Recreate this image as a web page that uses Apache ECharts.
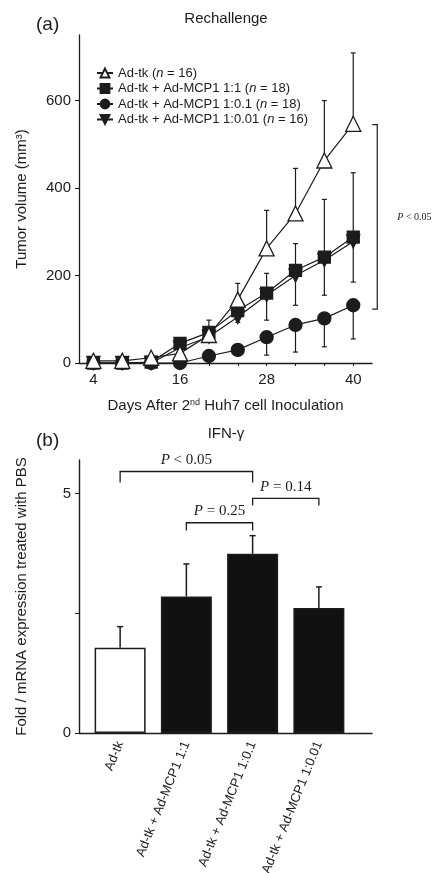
<!DOCTYPE html>
<html>
<head>
<meta charset="utf-8">
<script src="https://cdn.jsdelivr.net/npm/echarts@6/dist/echarts.min.js"></script>
<style>
  html, body { margin: 0; padding: 0; background: #fff; }
  #main { width: 433px; height: 873px; }
</style>
</head>
<body>
<div id="main"></div>
<script>
// (a) tumor volume after rechallenge
var days = [4, 8, 12, 16, 20, 24, 28, 32, 36, 40];
var dayLabels = [4, 16, 28, 40];
var volTicks = [0, 200, 400, 600];
var adTk = [5, 5, 12, 22, 64, 145, 262, 342, 463, 547];
var mcp11 = [0, 0, 2, 45, 70, 120, 160, 212, 242, 288];
var mcp101 = [0, 0, 0, 0, 16, 30, 59, 87, 102, 132];
var mcp1001 = [0, 0, 0, 35, 60, 105, 155, 200, 235, 278];
var adTkHigh = [null, null, null, null, 98, 182, 349, 445, 600, 709];
var mcp11High = [null, null, null, null, null, null, 205, 273, 374, 435];
var mcp101Low = [null, null, null, null, null, null, 18, 25, 37, 55];
var mcp1001Low = [null, null, null, null, null, 93, 98, 132, 155, 185];
var seriesNames = ['Ad-tk', 'Ad-tk + Ad-MCP1 1:1', 'Ad-tk + Ad-MCP1 1:0.1', 'Ad-tk + Ad-MCP1 1:0.01'];
var seriesN = [16, 18, 18, 16];
// bracket: x of line, x of tick end, y top, y bottom
var volBracket = [[43.33, 42.64, 545, 123]];

// (b) IFN-gamma expression
var groups = ['Ad-tk', 'Ad-tk + Ad-MCP1 1:1', 'Ad-tk + Ad-MCP1 1:0.1', 'Ad-tk + Ad-MCP1 1:0.01'];
var ifnMean = [1.78, 2.85, 3.74, 2.61];
var ifnHigh = [2.22, 3.53, 4.12, 3.05];
var foldTicks = [0, 2.5, 5];
var foldLabels = [0, 5];
// bracket: from group, to group, line y, tick end y
var ifnBrackets = [[0, 2, 5.46, 5.23], [1, 2, 4.39, 4.23], [2, 3, 4.90, 4.75]];
var ifnBracketText = ['P < 0.05', 'P = 0.25', 'P = 0.14'];

var ink = '#1c1c1c';
var sans = '"Liberation Sans", Arial, sans-serif';
var serif = '"Liberation Serif", "Times New Roman", serif';

var chart = echarts.init(document.getElementById('main'));

function errData(base, ends) {
  var out = [];
  for (var i = 0; i < days.length; i++) {
    if (ends[i] != null) out.push([days[i], base[i], ends[i]]);
  }
  return out;
}

function renderErr(params, api) {
  var p1 = api.coord([api.value(0), api.value(1)]);
  var p2 = api.coord([api.value(0), api.value(2)]);
  var w = 2.5;
  return {
    type: 'group',
    children: [
      { type: 'line', shape: { x1: p1[0], y1: p1[1], x2: p2[0], y2: p2[1] }, style: { stroke: ink, lineWidth: 1.2 } },
      { type: 'line', shape: { x1: p2[0] - w, y1: p2[1], x2: p2[0] + w, y2: p2[1] }, style: { stroke: ink, lineWidth: 1.2 } }
    ]
  };
}

function renderBarErr(params, api) {
  var p1 = api.coord([api.value(0), api.value(1)]);
  var p2 = api.coord([api.value(0), api.value(2)]);
  var w = 3;
  return {
    type: 'group',
    children: [
      { type: 'line', shape: { x1: p1[0], y1: p1[1], x2: p2[0], y2: p2[1] }, style: { stroke: ink, lineWidth: 1.5 } },
      { type: 'line', shape: { x1: p2[0] - w, y1: p2[1], x2: p2[0] + w, y2: p2[1] }, style: { stroke: ink, lineWidth: 1.5 } }
    ]
  };
}

function renderVolBracket(params, api) {
  var a = api.coord([api.value(1), api.value(2)]);
  var b = api.coord([api.value(0), api.value(2)]);
  var c = api.coord([api.value(0), api.value(3)]);
  var d = api.coord([api.value(1), api.value(3)]);
  return {
    type: 'group',
    children: [
      { type: 'polyline', shape: { points: [a, b, c, d] }, style: { stroke: ink, fill: null, lineWidth: 1.2 } },
      { type: 'text', x: b[0] + 20, y: (b[1] + c[1]) / 2,
        style: { text: '{i|P} < 0.05', fill: ink, font: '10px ' + serif, align: 'left', verticalAlign: 'middle',
                 rich: { i: { fontStyle: 'italic', fontFamily: serif, fontSize: 10 } } } }
    ]
  };
}

function renderIfnBracket(params, api) {
  var a = api.coord([api.value(0), api.value(3)]);
  var b = api.coord([api.value(0), api.value(2)]);
  var c = api.coord([api.value(1), api.value(2)]);
  var d = api.coord([api.value(1), api.value(3)]);
  var txt = ifnBracketText[params.dataIndex].replace('P', '{i|P}');
  return {
    type: 'group',
    children: [
      { type: 'polyline', shape: { points: [a, b, c, d] }, style: { stroke: ink, fill: null, lineWidth: 1.3 } },
      { type: 'text', x: (b[0] + c[0]) / 2, y: b[1] - 4,
        style: { text: txt, fill: ink, font: '15px ' + serif, align: 'center', verticalAlign: 'bottom',
                 rich: { i: { fontStyle: 'italic', fontFamily: serif, fontSize: 15 } } } }
    ]
  };
}

var lineBase = {
  type: 'line', xAxisIndex: 0, yAxisIndex: 0, z: 3,
  lineStyle: { color: ink, width: 1.2 },
  emphasis: { disabled: true }
};

function lineSeries(name, values, symbol, size, rotate, fill) {
  return Object.assign({}, lineBase, {
    name: name,
    data: days.map(function (d, i) { return [d, values[i]]; }),
    symbol: symbol, symbolSize: size, symbolRotate: rotate,
    itemStyle: { color: fill, borderColor: ink, borderWidth: 1.3 }
  });
}

var option = {
  animation: false,
  backgroundColor: '#fff',
  textStyle: { fontFamily: sans, color: ink },
  graphic: [
    { type: 'text', x: 36, y: 25, style: { text: '(a)', font: '19px ' + sans, fill: ink, verticalAlign: 'middle' } },
    { type: 'text', x: 226, y: 19, style: { text: 'Rechallenge', font: '15px ' + sans, fill: ink, align: 'center', verticalAlign: 'middle' } },
    { type: 'text', x: 36, y: 441, style: { text: '(b)', font: '19px ' + sans, fill: ink, verticalAlign: 'middle' } },
    { type: 'text', x: 226, y: 434, style: { text: 'IFN-\u03b3', font: '15px ' + sans, fill: ink, align: 'center', verticalAlign: 'middle' } }
  ],
  legend: {
    orient: 'vertical', left: 91, top: 61,
    itemWidth: 16, itemHeight: 11, itemGap: 1.5,
    data: seriesNames,
    formatter: function (name) {
      return '{t|' + name + ' (}{i|n}{t| = ' + seriesN[seriesNames.indexOf(name)] + ')}';
    },
    textStyle: {
      color: ink, fontFamily: sans, fontSize: 13, lineHeight: 14,
      rich: { t: { fontSize: 13, fontFamily: sans, color: ink }, i: { fontSize: 13, fontFamily: sans, fontStyle: 'italic', color: ink } }
    }
  },
  grid: [
    { left: 79, right: 61, top: 35, bottom: 510, outerBoundsMode: 'none' },
    { left: 79, right: 61, top: 460, bottom: 140, outerBoundsMode: 'none' },
    { left: 87, right: 81, top: 460, bottom: 140, outerBoundsMode: 'none' }
  ],
  xAxis: [
    {
      gridIndex: 0, type: 'value', min: 2, max: 42.6,
      axisLine: { onZero: false, lineStyle: { color: ink, width: 1.3 } },
      axisTick: { customValues: days, length: 3, lineStyle: { color: ink } },
      axisLabel: { customValues: dayLabels, color: ink, fontSize: 15, margin: 9 },
      splitLine: { show: false },
      name: '{a|Days After 2}{s|nd}{a| Huh7 cell Inoculation}',
      nameLocation: 'middle', nameGap: 35,
      nameTextStyle: { rich: { a: { fontSize: 15, color: ink, fontFamily: sans }, s: { fontSize: 9, color: ink, fontFamily: sans, verticalAlign: 'top', lineHeight: 12 } } }
    },
    {
      gridIndex: 1, type: 'value', min: 0, max: 1,
      axisLine: { onZero: false, lineStyle: { color: ink, width: 1.4 } },
      axisTick: { show: false }, axisLabel: { show: false }, splitLine: { show: false }
    },
    {
      gridIndex: 2, type: 'category', data: groups,
      axisLine: { show: false }, axisTick: { show: false },
      axisLabel: { rotate: 68, color: ink, fontSize: 13, margin: 9, interval: 0 }
    }
  ],
  yAxis: [
    {
      gridIndex: 0, type: 'value', min: 0, max: 750,
      axisLine: { show: true, lineStyle: { color: ink, width: 1.3 } },
      axisTick: { show: true, customValues: volTicks, length: 4, lineStyle: { color: ink } },
      axisLabel: { customValues: volTicks, color: ink, fontSize: 15, margin: 8 },
      splitLine: { show: false },
      name: 'Tumor volume (mm\u00b3)', nameLocation: 'middle', nameGap: 50,
      nameTextStyle: { fontSize: 15, color: ink }
    },
    {
      gridIndex: 1, type: 'value', min: 0, max: 5.7,
      axisLine: { show: true, lineStyle: { color: ink, width: 1.4 } },
      axisTick: { show: true, customValues: foldTicks, length: 4, lineStyle: { color: ink } },
      axisLabel: { customValues: foldLabels, color: ink, fontSize: 15, margin: 8 },
      splitLine: { show: false },
      name: 'Fold / mRNA expression treated with PBS', nameLocation: 'middle', nameGap: 50,
      nameTextStyle: { fontSize: 15, color: ink }
    },
    { gridIndex: 2, type: 'value', min: 0, max: 5.7, show: false }
  ],
  series: [
    { type: 'custom', xAxisIndex: 0, yAxisIndex: 0, z: 1, renderItem: renderErr, data: errData(mcp1001, mcp1001Low) },
    { type: 'custom', xAxisIndex: 0, yAxisIndex: 0, z: 1, renderItem: renderErr, data: errData(mcp101, mcp101Low) },
    { type: 'custom', xAxisIndex: 0, yAxisIndex: 0, z: 1, renderItem: renderErr, data: errData(mcp11, mcp11High) },
    { type: 'custom', xAxisIndex: 0, yAxisIndex: 0, z: 1, renderItem: renderErr, data: errData(adTk, adTkHigh) },
    lineSeries(seriesNames[3], mcp1001, 'triangle', 13, 180, ink),
    lineSeries(seriesNames[2], mcp101, 'circle', 13, 0, ink),
    lineSeries(seriesNames[1], mcp11, 'rect', 12, 0, ink),
    lineSeries(seriesNames[0], adTk, 'triangle', 15, 0, '#fff'),
    { type: 'custom', xAxisIndex: 0, yAxisIndex: 0, clip: false, renderItem: renderVolBracket, data: volBracket },
    {
      type: 'bar', xAxisIndex: 2, yAxisIndex: 2, barWidth: 51,
      emphasis: { disabled: true },
      data: ifnMean.map(function (v, i) {
        return { value: v, itemStyle: { color: i === 0 ? '#fff' : '#111', borderColor: ink, borderWidth: 1.5 } };
      })
    },
    {
      type: 'custom', xAxisIndex: 2, yAxisIndex: 2, z: 1, renderItem: renderBarErr,
      data: ifnMean.map(function (v, i) { return [i, v, ifnHigh[i]]; })
    },
    { type: 'custom', xAxisIndex: 2, yAxisIndex: 2, clip: false, renderItem: renderIfnBracket, data: ifnBrackets }
  ]
};

chart.setOption(option);
</script>
</body>
</html>
